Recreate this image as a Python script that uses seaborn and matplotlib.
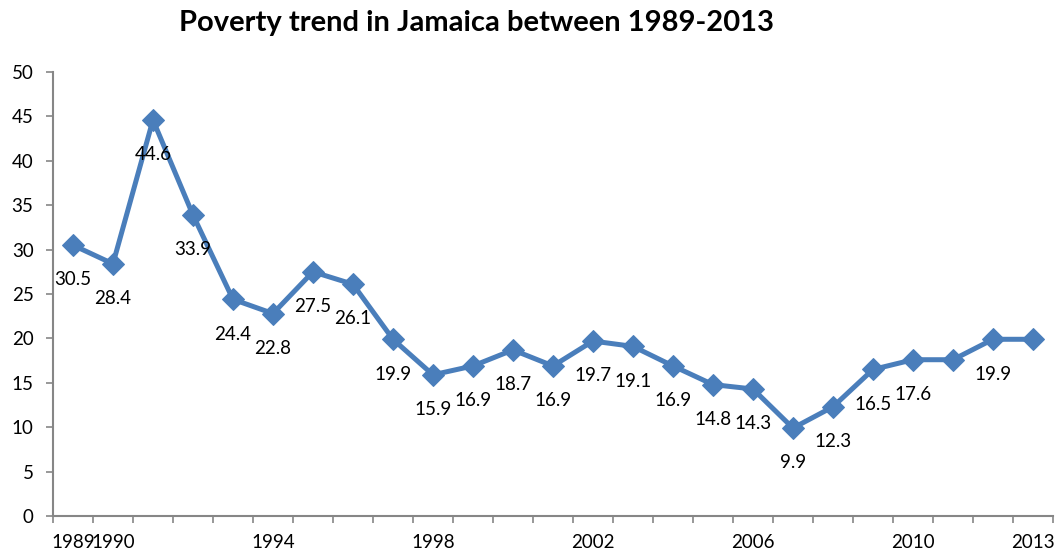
import numpy as np
import pandas as pd
import seaborn as sns
import matplotlib.pyplot as plt
from matplotlib.ticker import FixedLocator, FixedFormatter

years = list(range(1989, 2014))
poverty = [30.5, 28.4, 44.6, 33.9, 24.4, 22.8, 27.5, 26.1, 19.9, 15.9,
           16.9, 18.7, 16.9, 19.7, 19.1, 16.9, 14.8, 14.3, 9.9, 12.3,
           16.5, 17.6, 17.6, 19.9, 19.9]
point_labels = ["30.5", "28.4", "44.6", "33.9", "24.4", "22.8", "27.5", "26.1",
                "19.9", "15.9", "16.9", "18.7", "16.9", "19.7", "19.1", "16.9",
                "14.8", "14.3", "9.9", "12.3", "16.5", "17.6", "", "19.9", ""]
shown_years = [1989, 1990, 1994, 1998, 2002, 2006, 2010, 2013]
y_ticks = [0, 5, 10, 15, 20, 25, 30, 35, 40, 45, 50]

sns.set_theme(style="white")
plt.rcParams["font.family"] = ["Lato", "DejaVu Sans"]
plt.rcParams["text.color"] = "black"
plt.rcParams["xtick.labelcolor"] = "black"
plt.rcParams["ytick.labelcolor"] = "black"

df = pd.DataFrame({"pos": np.arange(len(years)), "rate": poverty})

fig = plt.figure(figsize=(10.57, 5.53), dpi=100)
ax = fig.add_axes([0.0501, 0.0669, 0.9461, 0.8029])

blue = "#4A7EBB"
sns.lineplot(data=df, x="pos", y="rate", ax=ax, color=blue, linewidth=3.6,
             marker="D", markersize=11.5, markeredgecolor=blue, markerfacecolor=blue)

for p, v, lab in zip(df["pos"], poverty, point_labels):
    if lab:
        ax.annotate(lab, (p, v), xytext=(0, -25), textcoords="offset points",
                    ha="center", va="center", fontsize=13.5, color="black")

ax.set_xlim(-0.5, len(years) - 0.5)
ax.set_ylim(0, 50)
ax.set_yticks(y_ticks)
ax.set_yticklabels([str(t) for t in y_ticks], fontsize=13.5)

# category boundaries carry tick marks; labels sit at category centres
ax.xaxis.set_major_locator(FixedLocator(np.arange(-0.5, len(years), 1.0)))
ax.xaxis.set_major_formatter(FixedFormatter([""] * (len(years) + 1)))
ax.xaxis.set_minor_locator(FixedLocator(np.arange(len(years))))
ax.xaxis.set_minor_formatter(FixedFormatter([str(y) if y in shown_years else "" for y in years]))
ax.tick_params(axis="x", which="minor", length=0, labelsize=13.5, pad=13, labelcolor="black")
ax.tick_params(axis="x", which="major", length=5, width=1.2, color="#868686", direction="out")
ax.tick_params(axis="y", length=5, width=1.2, color="#868686", direction="out", pad=9,
               labelcolor="black")
ax.xaxis.set_ticks_position("bottom")
ax.yaxis.set_ticks_position("left")

for side in ["top", "right"]:
    ax.spines[side].set_visible(False)
for side in ["left", "bottom"]:
    ax.spines[side].set_color("#868686")
    ax.spines[side].set_linewidth(1.5)

ax.set_xlabel("")
ax.set_ylabel("")
ax.grid(False)

fig.text(0.451, 0.958, "Poverty trend in Jamaica between 1989-2013",
         ha="center", va="center", fontsize=21, fontweight="bold", color="black")

fig.savefig("out.png", dpi=100)
